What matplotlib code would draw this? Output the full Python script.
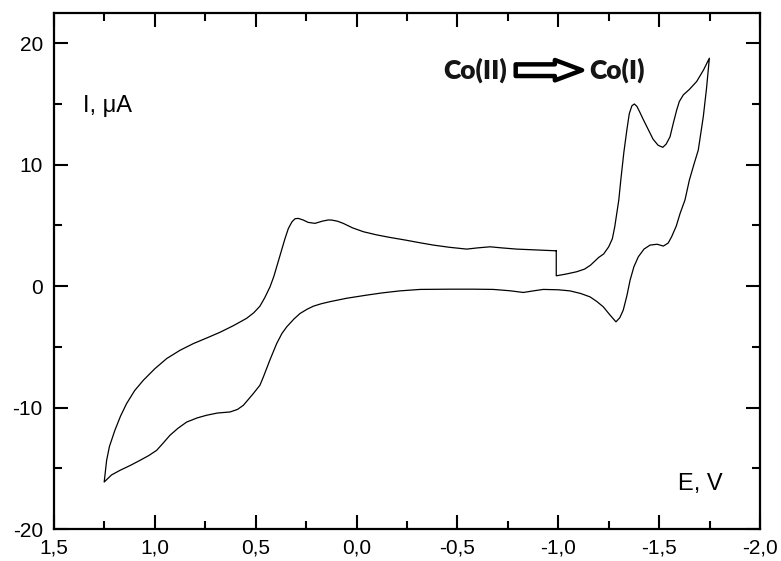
# > Import 3rd-Party Libraries
import matplotlib
matplotlib.use('Agg')
import matplotlib.pyplot as plt
from matplotlib.ticker import FixedLocator, MultipleLocator, FuncFormatter

plt.rcParams['font.family'] = ['Liberation Sans', 'DejaVu Sans']
plt.rcParams['axes.unicode_minus'] = False

# > Data (E in V, I in uA), in scan order
potential = [
    # start, forward scan towards -1.75 V
    -0.99, -0.99, -1.04, -1.09, -1.13, -1.16, -1.20, -1.225, -1.25, -1.268,
    -1.28, -1.29, -1.30, -1.31, -1.325, -1.34, -1.352, -1.365, -1.377, -1.39,
    -1.405, -1.422, -1.447, -1.47, -1.495, -1.518, -1.535, -1.554, -1.57, -1.587,
    -1.60, -1.62, -1.65, -1.686, -1.72, -1.749,
    # reverse scan towards +1.25 V
    -1.735, -1.719, -1.694, -1.672, -1.65, -1.628, -1.604, -1.585, -1.562, -1.545,
    -1.521, -1.49, -1.455, -1.425, -1.397, -1.375, -1.356, -1.34, -1.322, -1.305,
    -1.286, -1.255, -1.223, -1.19, -1.157, -1.11, -1.058, -1.0, -0.926, -0.88,
    -0.827, -0.76, -0.678, -0.58, -0.463, -0.315, -0.215, -0.13, -0.05, 0.05,
    0.135, 0.175, 0.214, 0.245, 0.28, 0.31, 0.346, 0.37, 0.396, 0.43,
    0.462, 0.479, 0.512, 0.53, 0.561, 0.59, 0.627, 0.69, 0.743, 0.79,
    0.842, 0.885, 0.925, 0.96, 0.991, 1.03, 1.074, 1.12, 1.173, 1.215,
    1.251,
    # back towards -1.0 V
    1.245, 1.239, 1.225, 1.198, 1.17, 1.14, 1.10, 1.057, 1.0, 0.941,
    0.875, 0.809, 0.74, 0.677, 0.61, 0.545, 0.51, 0.479, 0.455, 0.429,
    0.41, 0.396, 0.371, 0.355, 0.338, 0.32, 0.305, 0.289, 0.265, 0.24,
    0.206, 0.17, 0.14, 0.123, 0.095, 0.066, 0.02, -0.034, -0.10, -0.166,
    -0.24, -0.315, -0.381, -0.46, -0.546, -0.60, -0.662, -0.72, -0.794, -0.90,
    -0.99,
]
current = [
    2.91, 0.85, 1.0, 1.18, 1.4, 1.73, 2.36, 2.65, 3.24, 3.9,
    4.89, 6.0, 7.09, 8.74, 11.0, 12.86, 14.2, 14.85, 15.0, 14.8,
    14.3, 13.7, 12.86, 12.1, 11.6, 11.43, 11.7, 12.3, 13.4, 14.5,
    15.2, 15.75, 16.2, 16.85, 17.8, 18.77,
    16.3, 13.96, 11.2, 10.0, 8.74, 7.09, 5.99, 4.95, 4.07, 3.55,
    3.30, 3.45, 3.38, 3.05, 2.42, 1.6, 0.49, -0.8, -1.98, -2.6,
    -2.94, -2.35, -1.70, -1.25, -0.88, -0.6, -0.39, -0.3, -0.27, -0.38,
    -0.52, -0.38, -0.27, -0.25, -0.25, -0.27, -0.39, -0.55, -0.74, -1.0,
    -1.29, -1.45, -1.65, -1.9, -2.25, -2.7, -3.35, -3.9, -4.73, -6.1,
    -7.48, -8.16, -8.85, -9.2, -9.81, -10.15, -10.36, -10.45, -10.63, -10.85,
    -11.19, -11.7, -12.28, -12.95, -13.52, -13.95, -14.35, -14.75, -15.17, -15.55,
    -16.13,
    -15.2, -14.35, -13.2, -11.87, -10.7, -9.67, -8.6, -7.75, -6.8, -5.96,
    -5.28, -4.73, -4.25, -3.80, -3.25, -2.65, -2.2, -1.65, -0.95, -0.06,
    0.8, 1.59, 2.97, 3.9, 4.75, 5.3, 5.55, 5.58, 5.45, 5.25,
    5.17, 5.35, 5.45, 5.44, 5.35, 5.17, 4.8, 4.48, 4.22, 4.01,
    3.8, 3.57, 3.38, 3.2, 3.05, 3.15, 3.24, 3.15, 3.05, 2.97,
    2.91,
]

x_major = [1.5, 1.0, 0.5, 0.0, -0.5, -1.0, -1.5, -2.0]
y_major = [-20, -10, 0, 10, 20]

fig = plt.figure(figsize=(7.81, 5.61), dpi=100)
ax = fig.add_axes([0.0691, 0.057, 0.904, 0.920])

ax.plot(potential, current, color='black', linewidth=0.9)

ax.set_xlim(1.5, -2.0)
ax.set_ylim(-20, 22.5)

ax.xaxis.set_major_locator(FixedLocator(x_major))
ax.xaxis.set_minor_locator(MultipleLocator(0.25))
ax.yaxis.set_major_locator(FixedLocator(y_major))
ax.yaxis.set_minor_locator(MultipleLocator(5))
ax.xaxis.set_major_formatter(FuncFormatter(lambda v, p: f'{v:.1f}'.replace('.', ',')))
ax.yaxis.set_major_formatter(FuncFormatter(lambda v, p: f'{v:.0f}'))

ax.tick_params(which='both', direction='in', top=True, right=True,
               width=1.5, labelsize=15)
ax.tick_params(which='major', length=10)
ax.tick_params(which='minor', length=6)
ax.tick_params(axis='x', pad=7)
ax.tick_params(axis='y', pad=8)
for s in ax.spines.values():
    s.set_linewidth(1.6)

ax.text(0.041, 0.808, 'I, μA', transform=ax.transAxes, fontsize=17)
ax.text(0.884, 0.0756, 'E, V', transform=ax.transAxes, fontsize=17)

# > Co(II) -> Co(I) annotation
ax.text(0.551, 0.889, 'Co(II)', transform=ax.transAxes, fontsize=19,
        family='Lato', weight='heavy', va='center', color='#151515')
ax.text(0.758, 0.889, 'Co(I)', transform=ax.transAxes, fontsize=19,
        family='Lato', weight='heavy', va='center', color='#151515')
ax.annotate('', xy=(0.748, 0.889), xytext=(0.654, 0.889),
            xycoords='axes fraction', textcoords='axes fraction',
            arrowprops=dict(arrowstyle='simple,head_length=1.4,head_width=1.05,tail_width=0.6',
                            mutation_scale=14, fc='white', ec='black', lw=3.2,
                            shrinkA=0, shrinkB=0))

plt.savefig('out.png', dpi=100)
